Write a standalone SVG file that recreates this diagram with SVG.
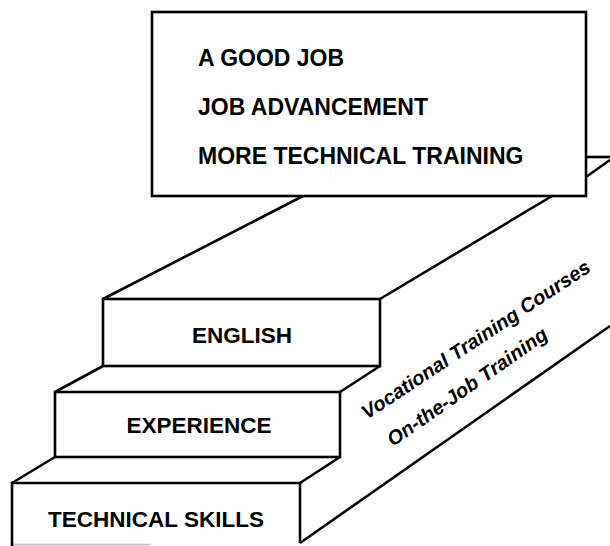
<svg xmlns="http://www.w3.org/2000/svg" width="610" height="546" viewBox="0 0 610 546">
  <style>
    .edge { fill: none; stroke: #000; stroke-width: 2.6; stroke-linejoin: miter; stroke-linecap: butt; }
    .face { fill: #fff; stroke: #000; stroke-width: 2.6; }
    .cap { font-family: "Liberation Sans", Arial, sans-serif; font-weight: bold; fill: #000; }
    .goal { font-size: 23px; }
    .step { font-size: 22.5px; text-anchor: middle; }
    .side { font-family: "Liberation Sans", Arial, sans-serif; font-weight: bold; font-style: italic; font-size: 20px; fill: #000; }
  </style>
  <rect width="610" height="546" fill="#fff"/>

  <!-- perspective edges of the staircase -->
  <g id="connectors">
    <!-- upper landing, running back behind the goal box -->
    <path class="edge" d="M103 299 L303 196"/>
    <path class="edge" d="M380 299 L552 196"/>
    <path class="edge" d="M586 157 L610 157"/>
    <path class="edge" d="M586 177 L610 160"/>
    <!-- tread between ENGLISH and EXPERIENCE -->
    <path class="edge" d="M55 392 L103 366"/>
    <path class="edge" d="M340 392 L380 366"/>
    <!-- tread between EXPERIENCE and TECHNICAL SKILLS -->
    <path class="edge" d="M12 483 L55 457"/>
    <path class="edge" d="M300 483 L340 457"/>
    <!-- lower edge of the side face -->
    <path class="edge" d="M300 543 L610 326"/>
    <!-- faint base line -->
    <path d="M12 544.5 L150 544.5" stroke="#bbb" stroke-width="1.5"/>
  </g>

  <g id="goals">
    <rect class="face" x="152" y="12" width="434" height="184"/>
    <text class="cap goal" x="198" y="66">A GOOD JOB</text>
    <text class="cap goal" x="198" y="115">JOB ADVANCEMENT</text>
    <text class="cap goal" x="198" y="164">MORE TECHNICAL TRAINING</text>
  </g>

  <g id="step-english">
    <rect class="face" x="103" y="299" width="277" height="67"/>
    <text class="cap step" x="242" y="343">ENGLISH</text>
  </g>

  <g id="step-experience">
    <rect class="face" x="55" y="392" width="285" height="65"/>
    <text class="cap step" x="199" y="433">EXPERIENCE</text>
  </g>

  <g id="step-technical-skills">
    <path class="edge" d="M12 546 L12 483 L300 483 L300 543"/>
    <text class="cap step" x="156" y="527">TECHNICAL SKILLS</text>
  </g>

  <g id="side-labels">
    <text class="side" transform="translate(367 420) rotate(-33.6)">Vocational Training Courses</text>
    <text class="side" transform="translate(393 447) rotate(-35)">On-the-Job Training</text>
  </g>
</svg>
